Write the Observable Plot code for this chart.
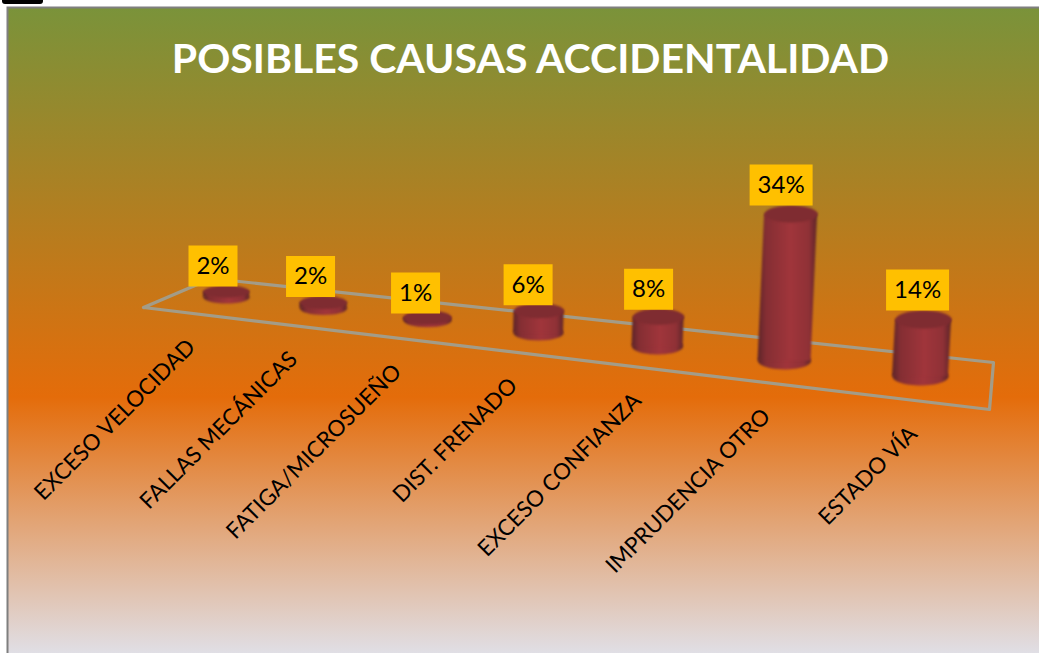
<!DOCTYPE html>
<html lang="es">
<head>
<meta charset="utf-8">
<title>Posibles causas accidentalidad</title>
<script src="https://cdn.jsdelivr.net/npm/d3@7"></script>
<script src="https://cdn.jsdelivr.net/npm/@observablehq/plot@0.6"></script>
<style>
  html, body { margin: 0; padding: 0; background: #fff; overflow: hidden; }
  #chart svg { display: block; }
  #tab { position: absolute; left: 2px; top: 0; width: 41px; height: 4px; background: #000; border-radius: 0 0 3px 3px; }
</style>
</head>
<body>
<div id="tab"></div>
<div id="chart"></div>
<script>
const titleText = "POSIBLES CAUSAS ACCIDENTALIDAD";
const categories = ["EXCESO VELOCIDAD", "FALLAS MECÁNICAS", "FATIGA/MICROSUEÑO", "DIST. FRENADO", "EXCESO CONFIANZA", "IMPRUDENCIA OTRO", "ESTADO VÍA"];
const percents = [2, 2, 1, 6, 8, 34, 14];

// Perspective layout of the tilted floor (options, not data)
const slotPixels = [226, 323, 427, 538, 657, 784, 920];
const cylinderWidths = [46, 47, 48, 50, 51, 53, 56];
const capRadii = [6, 6.5, 7, 7.5, 8, 8.5, 9];
const depthFactors = [0.71, 0.71, 0.71, 0.88, 0.89, 1.03, 0.97];
const boxOffsets = [-13.5, -13, -12, -11, -10, -10, -6];
const boxDrops = [1, 1, 3, 2, 1, 0, 0];
const labelEndOffsets = [-35, -30, -30, -25, -20, -18, -7];
const floorCorners = [[143, 307], [211, 278], [993, 362], [989, 409], [143, 307]];
const zeroPixel = 297, pixelsPerPercent = 4.2, floorSlope = 0.1138;

const slots = d3.range(categories.length);
const pxToSlot = d3.scaleLinear().domain(slotPixels).range(slots);
const pxToPct = (py) => (zeroPixel - py) / pixelsPerPercent;

const bars = categories.map((name, i) => {
  const baseY = zeroPixel + floorSlope * (slotPixels[i] - slotPixels[0]);
  const rise = percents[i] * pixelsPerPercent * depthFactors[i];
  const topX = slotPixels[i] + 0.045 * rise * (i / 5);
  return {
    name, i, value: percents[i], label: percents[i] + "%",
    w: cylinderWidths[i], ry: capRadii[i],
    baseSlot: i, topSlot: pxToSlot(topX),
    basePct: pxToPct(baseY), topPct: pxToPct(baseY - rise),
    topPx: topX, baseY, rise
  };
});

const bodyPoints = bars.flatMap((b) => [
  {name: b.name, left: pxToSlot(slotPixels[b.i] - b.w / 2), right: pxToSlot(slotPixels[b.i] + b.w / 2), y: b.basePct},
  {name: b.name, left: pxToSlot(b.topPx - b.w / 2), right: pxToSlot(b.topPx + b.w / 2), y: b.topPct}
]);

const floorPoints = floorCorners.map(([px, py]) => ({slot: pxToSlot(px), pct: pxToPct(py)}));

const labelPoints = bars.map((b) => {
  const px = slotPixels[b.i] + labelEndOffsets[b.i];
  return {name: b.name, slot: pxToSlot(px), pct: pxToPct(307 + 0.1206 * (px - 143) + 30)};
});

function ellipseSymbol(rx, ry) {
  const k = 0.5523;
  return {draw(c) {
    c.moveTo(-rx, 0);
    c.bezierCurveTo(-rx, -k * ry, -k * rx, -ry, 0, -ry);
    c.bezierCurveTo(k * rx, -ry, rx, -k * ry, rx, 0);
    c.bezierCurveTo(rx, k * ry, k * rx, ry, 0, ry);
    c.bezierCurveTo(-k * rx, ry, -rx, k * ry, -rx, 0);
    c.closePath();
  }};
}
function boxSymbol(w, h) {
  return {draw(c) { c.rect(-w / 2, -h / 2, w, h); }};
}

function gradients() {
  const defs = d3.create("svg:defs");
  const bg = defs.append("linearGradient").attr("id", "bg").attr("x1", 0).attr("x2", 0).attr("y1", 0).attr("y2", 1);
  [[0, "#7a933a"], [0.6, "#e46c0a"], [1, "#e0e0e8"]].forEach(([o, c]) => bg.append("stop").attr("offset", o).attr("stop-color", c));
  const cyl = defs.append("linearGradient").attr("id", "cyl").attr("x1", 0).attr("x2", 1).attr("y1", 0).attr("y2", 0);
  [[0, "#5c2428"], [0.14, "#842e33"], [0.55, "#a0353b"], [0.86, "#8f3136"], [1, "#5e2529"]].forEach(([o, c]) => cyl.append("stop").attr("offset", o).attr("stop-color", c));
  return defs.node();
}

const soft = "blur(0.9px)";

const plot = Plot.plot({
  width: 1039,
  height: 653,
  marginLeft: 7, marginTop: 7, marginRight: 0, marginBottom: 0,
  x: {type: "linear", domain: slots, range: slotPixels, axis: null},
  y: {type: "linear", domain: [0, 50], range: [zeroPixel, zeroPixel - 50 * pixelsPerPercent], axis: null},
  style: {fontFamily: "Lato, sans-serif", background: "transparent"},
  marks: [
    gradients,
    Plot.frame({fill: "url(#bg)", stroke: "#7f7f7f", strokeWidth: 2, insetRight: -3, insetBottom: -3}),
    Plot.text([titleText], {frameAnchor: "top", dx: 7, dy: 52, text: (d) => d, lineAnchor: "middle", fill: "#fff", fontWeight: 700, fontSize: 41}),
    Plot.line(floorPoints, {x: "slot", y: "pct", stroke: "#a39c88", strokeWidth: 3.2, curve: "linear", imageFilter: "blur(0.4px)"}),
    ...bars.map((b) => Plot.dot([b], {x: "baseSlot", y: "basePct", symbol: ellipseSymbol(b.w / 2, b.ry), r: 1, fill: "url(#cyl)", stroke: "none", imageFilter: soft})),
    Plot.area(bodyPoints, {x1: "left", x2: "right", y1: "y", y2: "y", z: "name", fill: "url(#cyl)", curve: "linear", imageFilter: soft}),
    ...bars.map((b) => Plot.dot([b], {x: "topSlot", y: "topPct", symbol: ellipseSymbol(b.w / 2, b.ry), r: 1, fill: "#7f2c31", stroke: "none", imageFilter: soft})),
    ...bars.map((b) => {
      const boxW = b.label.length > 2 ? 63 : 49;
      const dy = -b.ry - 20.5 + boxDrops[b.i];
      return [
        Plot.dot([b], {x: "topSlot", y: "topPct", dx: boxOffsets[b.i], dy, symbol: boxSymbol(boxW, 41), r: 1, fill: "#ffc000", stroke: "none"}),
        Plot.text([b], {x: "topSlot", y: "topPct", dx: boxOffsets[b.i], dy, text: "label", fill: "#000", fontSize: 24, lineAnchor: "middle"})
      ];
    }),
    Plot.text(labelPoints, {x: "slot", y: "pct", text: "name", rotate: -45, textAnchor: "end", lineAnchor: "middle", fill: "#000", fontSize: 22.4})
  ]
});
document.getElementById("chart").appendChild(plot);
</script>
</body>
</html>
